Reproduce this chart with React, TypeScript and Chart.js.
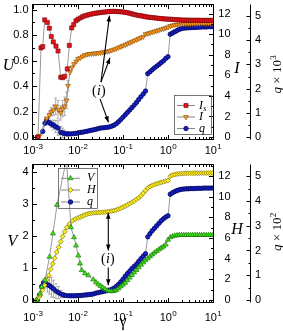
import React, { useEffect, useRef } from 'react';
import { Chart, registerables } from 'chart.js';

Chart.register(...registerables);

const SANS = '"Liberation Sans", Arial, Helvetica, sans-serif';
const SERIF = '"Liberation Serif", "Times New Roman", serif';

// ---------------- data (log10 of gamma, values) ----------------
const denseLogGamma = [
  -2.2, -2.15, -2.1, -2.05, -2.0, -1.95, -1.9, -1.85, -1.8, -1.75, -1.7, -1.65, -1.6, -1.55, -1.5, -1.45,
  -1.4, -1.35, -1.3, -1.25, -1.2, -1.15, -1.1, -1.05, -1.0, -0.95, -0.9, -0.85, -0.8, -0.75, -0.7, -0.65,
  -0.6, -0.55, -0.5, -0.45, -0.4, -0.35, -0.3, -0.25, -0.2, -0.15, -0.1, -0.05, 0, 0.05, 0.1, 0.15,
  0.2, 0.25, 0.3, 0.35, 0.4, 0.45, 0.5, 0.55, 0.6, 0.65, 0.7, 0.75, 0.8, 0.85, 0.9, 0.95, 1.0,
];

// top panel: I_s (left axis U)
const isEarlyLogGamma = [-2.889, -2.822, -2.784, -2.74, -2.682, -2.638, -2.593, -2.549, -2.489, -2.444, -2.384, -2.34, -2.296, -2.238, -2.193, -2.14, -2.096, -2.046];
const isEarlyValues = [0.0, 0.70, 0.71, 0.92, 0.90, 0.855, 0.79, 0.747, 0.714, 0.676, 0.47, 0.466, 0.477, 0.535, 0.72, 0.857, 0.883, 0.913];
const isDenseValues = [
  null, null, null, null, 0.925, 0.935, 0.945, 0.952, 0.957, 0.962, 0.966, 0.970, 0.973, 0.975, 0.978, 0.980,
  0.982, 0.984, 0.986, 0.987, 0.987, 0.986, 0.985, 0.984, 0.982, 0.979, 0.976, 0.972, 0.967, 0.962, 0.958, 0.955,
  0.952, 0.949, 0.945, 0.942, 0.940, 0.938, 0.936, 0.934, 0.932, 0.930, 0.928, 0.927, 0.926, 0.925, 0.924, 0.922,
  0.921, 0.920, 0.919, 0.918, 0.918, 0.918, 0.917, 0.917, 0.917, 0.917, 0.917, 0.916, 0.916, 0.916, 0.916, 0.916, 0.916,
];

// top panel: I (right axis)
const iEarlyLogGamma = [-2.86, -2.696, -2.638, -2.593, -2.549, -2.496, -2.444, -2.384, -2.34, -2.296, -2.251, -2.222, -2.178, -2.133, -2.089, -2.04];
const iEarlyValues = [0.1, 1.82, 2.13, 2.45, 2.6, 2.99, 2.67, 2.35, 2.77, 2.99, 3.56, 4.98, 6.31, 6.78, 7.1, 7.35];
const iEarlyErrors = [0, 0, 0.3, 0.4, 0.5, 0.8, 0.9, 0.7, 0.8, 0.9, 0.8, 0.5, 0, 0, 0, 0];
const iDenseValues = [
  null, null, null, null, 7.6, 7.7, 7.85, 7.97, 8.03, 8.08, 8.1, 8.12, 8.14, 8.17, 8.2, 8.24,
  8.27, 8.31, 8.37, 8.44, 8.52, 8.6, 8.7, 8.79, 8.88, 8.97, 9.07, 9.17, 9.27, 9.37, 9.47, 9.57,
  9.66, 9.75, 10.0, 10.06, 10.13, 10.2, 10.27, 10.33, 10.4, 10.47, 10.53, 10.6, 10.68, 10.8, 10.85, 10.9,
  10.93, 10.95, 10.97, 10.99, 11.0, 11.0, 11.01, 11.02, 11.02, 11.03, 11.03, 11.04, 11.04, 11.05, 11.05, 11.05, 11.05,
];

// top panel: q x 10^3 (far right axis)
const qTopEarlyLogGamma = [-2.904, -2.784, -2.733, -2.696, -2.638, -2.593, -2.549, -2.496, -2.444, -2.384, -2.34, -2.296, -2.238];
const qTopEarlyValues = [0.0, 0.23, 0.57, 0.70, 0.59, 0.54, 0.50, 0.43, 0.37, 0.19, 0.17, 0.14, 0.13];
const qTopEarlyErrors = [0, 0, 0, 0, 0.1, 0.15, 0.2, 0.25, 0.3, 0.25, 0.2, 0.15, 0.1];
const qTopDenseValues = [
  0.13, 0.13, 0.14, 0.15, 0.17, 0.19, 0.2, 0.22, 0.24, 0.26, 0.28, 0.3, 0.32, 0.35, 0.37, 0.38,
  0.39, 0.4, 0.42, 0.45, 0.49, 0.55, 0.63, 0.72, 0.82, 0.92, 1.02, 1.12, 1.22, 1.32, 1.43, 1.55,
  1.67, 1.78, 1.9, 2.62, 2.7, 2.78, 2.86, 2.93, 3.0, 3.08, 3.15, 3.25, 3.32, 4.25, 4.3, 4.35,
  4.4, 4.45, 4.48, 4.5, 4.51, 4.52, 4.52, 4.53, 4.53, 4.54, 4.54, 4.55, 4.55, 4.55, 4.56, 4.56, 4.56,
];

// bottom panel: V (left axis)
const vEarlyLogGamma = [-2.918, -2.844, -2.807, -2.733, -2.633, -2.556, -2.467, -2.256, -2.156, -2.089, -2.044, -1.993, -1.956, -1.918, -1.844, -1.771, -1.66];
const vEarlyValues = [0.0, 0.2, 0.41, 0.62, 1.35, 2.08, 2.97, 4.4, 2.27, 1.96, 1.7, 1.39, 1.14, 0.93, 0.83, 0.77, 0.64];
const vDenseValues = [
  null, null, null, null, null, null, null, null, null, null, null, null, 0.55, 0.49, 0.44, 0.39,
  0.34, 0.3, 0.28, 0.27, 0.28, 0.31, 0.36, 0.42, 0.48, 0.54, 0.62, 0.7, 0.78, 0.86, 0.94, 1.02,
  1.1, 1.17, 1.24, 1.3, 1.36, 1.42, 1.48, 1.53, 1.58, 1.63, 1.67, 1.73, 1.88, 1.96, 1.99, 2.01,
  2.02, 2.03, 2.03, 2.03, 2.03, 2.03, 2.03, 2.03, 2.03, 2.03, 2.03, 2.03, 2.03, 2.03, 2.03, 2.03, 2.03,
];

// bottom panel: H (right axis)
const hEarlyLogGamma = [-2.918, -2.878, -2.844, -2.793, -2.74, -2.696, -2.651, -2.607, -2.562, -2.518, -2.473, -2.429, -2.384, -2.34, -2.296, -2.251, -2.193, -2.118, -2.06];
const hEarlyValues = [0.0, 0.25, 0.48, 0.96, 1.44, 1.92, 2.4, 2.98, 3.52, 4.06, 4.64, 5.12, 5.66, 6.17, 6.62, 7.03, 7.36, 7.68, 7.85];
const hDenseValues = [
  null, null, null, null, 7.95, 8.05, 8.15, 8.24, 8.31, 8.37, 8.41, 8.44, 8.46, 8.47, 8.48, 8.5,
  8.52, 8.55, 8.58, 8.62, 8.66, 8.72, 8.8, 8.9, 9.0, 9.1, 9.22, 9.35, 9.48, 9.6, 9.75, 9.9,
  10.1, 10.35, 10.6, 10.85, 11.0, 11.1, 11.18, 11.26, 11.33, 11.4, 11.46, 11.52, 11.58, 12.0, 12.1, 12.16,
  12.2, 12.23, 12.25, 12.27, 12.27, 12.28, 12.28, 12.28, 12.29, 12.29, 12.29, 12.3, 12.3, 12.3, 12.3, 12.3, 12.3,
];

// bottom panel: q x 10^2 (far right axis)
const qBotEarlyLogGamma = [-2.904, -2.856, -2.807, -2.767, -2.722, -2.678, -2.633, -2.589, -2.544, -2.489, -2.433, -2.378, -2.322, -2.267];
const qBotEarlyValues = [0.0, 0.2, 0.55, 0.7, 0.68, 0.62, 0.58, 0.52, 0.45, 0.36, 0.3, 0.24, 0.2, 0.18];
const qBotEarlyErrors = [0, 0, 0, 0.15, 0.2, 0.3, 0.35, 0.4, 0.35, 0.3, 0.25, 0.15, 0.1, 0];
const qBotDenseValues = [
  0.17, 0.17, 0.17, 0.17, 0.18, 0.18, 0.19, 0.2, 0.21, 0.22, 0.23, 0.25, 0.28, 0.3, 0.32, 0.34,
  0.36, 0.38, 0.4, 0.43, 0.48, 0.55, 0.63, 0.73, 0.84, 0.96, 1.07, 1.17, 1.27, 1.36, 1.45, 1.56,
  1.67, 1.77, 1.87, 2.55, 2.68, 2.8, 2.9, 3.0, 3.1, 3.2, 3.28, 3.35, 3.4, 4.27, 4.33, 4.38,
  4.42, 4.45, 4.47, 4.48, 4.49, 4.49, 4.5, 4.5, 4.5, 4.51, 4.51, 4.51, 4.52, 4.52, 4.52, 4.52, 4.52,
];

// annotations, in data coordinates (log10 gamma, left-axis value)
const topArrowFrom = [[-1.489, 0.431], [-1.489, 0.431], [-1.511, 0.3]];
const topArrowTo = [[-1.3, 0.954], [-1.289, 0.623], [-1.322, 0.115]];
const topLabelAt = [-1.544, 0.358];
const botArrowFrom = [[-1.327, 2.724], [-1.327, 1.02]];
const botArrowTo = [[-1.327, 1.548], [-1.327, 0.464]];
const botArrowDouble = [true, false];
const botLabelAt = [-1.344, 1.27];

// ---------------- helpers ----------------
function buildPoints(earlyLog: number[], earlyVal: number[], dense: (number | null)[]) {
  const pts: { x: number; y: number }[] = [];
  earlyLog.forEach((l, i) => pts.push({ x: Math.pow(10, l), y: earlyVal[i] }));
  dense.forEach((v, i) => {
    if (v !== null) pts.push({ x: Math.pow(10, denseLogGamma[i]), y: v });
  });
  return pts;
}

function drawMarker(ctx: CanvasRenderingContext2D, style: string, x: number, y: number, r: number, rot: number, fill: string, stroke: string, bw: number) {
  ctx.beginPath();
  if (style === 'circle') ctx.arc(x, y, r, 0, Math.PI * 2);
  else if (style === 'rect') {
    const s = r * Math.SQRT1_2;
    ctx.rect(x - s, y - s, 2 * s, 2 * s);
  } else if (style === 'rectRot') {
    ctx.moveTo(x - r, y); ctx.lineTo(x, y - r); ctx.lineTo(x + r, y); ctx.lineTo(x, y + r); ctx.closePath();
  } else {
    let a = (rot * Math.PI) / 180;
    for (let k = 0; k < 3; k++) {
      const px = x + Math.sin(a) * r, py = y - Math.cos(a) * r;
      if (k) ctx.lineTo(px, py); else ctx.moveTo(px, py);
      a += (2 * Math.PI) / 3;
    }
    ctx.closePath();
  }
  ctx.fillStyle = fill; ctx.fill();
  ctx.lineWidth = bw; ctx.strokeStyle = stroke; ctx.stroke();
}

function arrowHead(ctx: CanvasRenderingContext2D, x0: number, y0: number, x1: number, y1: number) {
  const ang = Math.atan2(y1 - y0, x1 - x0);
  const len = 6, hw = 2.3;
  const bx = x1 - len * Math.cos(ang), by = y1 - len * Math.sin(ang);
  ctx.beginPath();
  ctx.moveTo(x1, y1);
  ctx.lineTo(bx + hw * Math.sin(ang), by - hw * Math.cos(ang));
  ctx.lineTo(bx - hw * Math.sin(ang), by + hw * Math.cos(ang));
  ctx.closePath();
  ctx.fill();
}

interface LegendItem { label: string; sub?: string; ds: number }
interface DecorSpec {
  leftId: string; rightId: string; farId: string;
  xLabelBaseline: number;
  rightLabelRight: number;
  leftTitle: { text: string; x: number; y: number };
  rightTitle: { text: string; x: number; y: number };
  farTitle: { exp: string; x: number; y: number };
  xTitle?: { text: string; baseline: number };
  legend: { left: number; top: number; right: number; bottom: number; rows: number[]; line: number[]; marker: number; labelX: number; items: LegendItem[] };
  arrowsFrom: number[][]; arrowsTo: number[][]; arrowsDouble: boolean[];
  labelAt: number[];
}

function makeDecor(spec: DecorSpec) {
  return {
    id: 'decor',
    beforeDatasetsDraw(chart: any) {
      const { ctx } = chart;
      ctx.save();
      ctx.strokeStyle = '#9a9a9a';
      ctx.lineWidth = 0.8;
      chart.data.datasets.forEach((ds: any, di: number) => {
        if (!ds.errors) return;
        const meta = chart.getDatasetMeta(di);
        const ys = chart.scales[ds.yAxisID];
        ds.errors.forEach((e: number, i: number) => {
          if (!e) return;
          const v = ds.data[i].y;
          const x = meta.data[i].x;
          const y0 = ys.getPixelForValue(v + e);
          const y1 = ys.getPixelForValue(v - e);
          ctx.beginPath();
          ctx.moveTo(x, y0); ctx.lineTo(x, y1);
          ctx.moveTo(x - 1.5, y0); ctx.lineTo(x + 1.5, y0);
          ctx.moveTo(x - 1.5, y1); ctx.lineTo(x + 1.5, y1);
          ctx.stroke();
        });
      });
      ctx.restore();
    },
    afterDraw(chart: any) {
      const { ctx, chartArea: a } = chart;
      const xs = chart.scales.x;
      const yl = chart.scales[spec.leftId];
      const yr = chart.scales[spec.rightId];
      const yf = chart.scales[spec.farId];
      ctx.save();
      // frame
      ctx.strokeStyle = '#000';
      ctx.lineWidth = 1;
      const L = Math.round(a.left) - 0.5, R = Math.round(a.right) + 0.5;
      const T = Math.round(a.top) - 0.5, B = Math.round(a.bottom) + 0.5;
      ctx.strokeRect(L, T, R - L, B - T);
      ctx.beginPath();
      xs.ticks.forEach((t: any) => {
        const v = t.value;
        const e = Math.floor(Math.log10(v) + 1e-9);
        const m = v / Math.pow(10, e);
        if (Math.abs(m - Math.round(m)) > 1e-6) return;
        const major = Math.abs(m - 1) < 1e-6 || Math.abs(m - 10) < 1e-6;
        const px = Math.round(xs.getPixelForValue(v)) + 0.5;
        const len = major ? 4.5 : 2.5;
        ctx.moveTo(px, B); ctx.lineTo(px, B - len);
        ctx.moveTo(px, T); ctx.lineTo(px, T + len);
      });
      yl.ticks.forEach((t: any) => {
        const py = Math.round(yl.getPixelForValue(t.value)) + 0.5;
        const len = t.label ? 4.5 : 2.5;
        ctx.moveTo(L, py); ctx.lineTo(L + len, py);
      });
      yr.ticks.forEach((t: any) => {
        const py = Math.round(yr.getPixelForValue(t.value)) + 0.5;
        const len = t.label ? 4.5 : 2.5;
        ctx.moveTo(R, py); ctx.lineTo(R - len, py);
      });
      const fx = Math.round(yf.left) + 0.5;
      ctx.moveTo(fx, T); ctx.lineTo(fx, B);
      yf.ticks.forEach((t: any) => {
        const py = Math.round(yf.getPixelForValue(t.value)) + 0.5;
        const len = t.label ? 4 : 2;
        ctx.moveTo(fx, py); ctx.lineTo(fx - len, py);
      });
      ctx.stroke();

      // right-axis tick labels (right aligned next to the frame)
      ctx.fillStyle = '#000';
      ctx.font = `11px ${SANS}`;
      ctx.textAlign = 'right';
      ctx.textBaseline = 'middle';
      yr.ticks.forEach((t: any) => {
        if (!t.label) return;
        ctx.fillText(String(t.label), spec.rightLabelRight, yr.getPixelForValue(t.value));
      });

      // x tick labels 10^n
      ctx.textBaseline = 'alphabetic';
      ctx.textAlign = 'left';
      xs.ticks.forEach((t: any) => {
        const lg = Math.log10(t.value);
        if (Math.abs(lg - Math.round(lg)) > 1e-6) return;
        const ex = String(Math.round(lg));
        ctx.font = `11px ${SANS}`;
        const w1 = ctx.measureText('10').width;
        ctx.font = `8px ${SANS}`;
        const w2 = ctx.measureText(ex).width;
        const px = xs.getPixelForValue(t.value);
        const x0 = px - (w1 + w2) / 2;
        const by = a.bottom + spec.xLabelBaseline;
        ctx.font = `11px ${SANS}`;
        ctx.fillText('10', x0, by);
        ctx.font = `8px ${SANS}`;
        ctx.fillText(ex, x0 + w1 + 0.3, by - 5);
      });

      // axis titles
      ctx.textAlign = 'center';
      ctx.textBaseline = 'middle';
      ctx.font = `italic 16px ${SERIF}`;
      ctx.fillText(spec.leftTitle.text, spec.leftTitle.x, spec.leftTitle.y);
      ctx.fillText(spec.rightTitle.text, spec.rightTitle.x, spec.rightTitle.y);
      if (spec.xTitle) {
        ctx.textBaseline = 'alphabetic';
        ctx.font = `16px ${SERIF}`;
        ctx.fillText(spec.xTitle.text, (a.left + a.right) / 2, spec.xTitle.baseline);
      }
      // far title rotated: q × 10^n
      ctx.save();
      ctx.translate(spec.farTitle.x, spec.farTitle.y);
      ctx.rotate(-Math.PI / 2);
      ctx.textAlign = 'left';
      ctx.textBaseline = 'alphabetic';
      ctx.font = `italic 13px ${SERIF}`;
      const wq = ctx.measureText('q').width;
      ctx.font = `13px ${SERIF}`;
      const wm = ctx.measureText(' \u00d7 10').width;
      ctx.font = `9px ${SERIF}`;
      const we = ctx.measureText(spec.farTitle.exp).width;
      let tx = -(wq + wm + we) / 2;
      ctx.font = `italic 13px ${SERIF}`;
      ctx.fillText('q', tx, 4); tx += wq;
      ctx.font = `13px ${SERIF}`;
      ctx.fillText(' \u00d7 10', tx, 4); tx += wm;
      ctx.font = `9px ${SERIF}`;
      ctx.fillText(spec.farTitle.exp, tx + 0.3, -1.5);
      ctx.restore();

      // legend
      const lg = spec.legend;
      ctx.strokeStyle = '#555';
      ctx.lineWidth = 0.8;
      ctx.strokeRect(Math.round(lg.left) + 0.5, Math.round(lg.top) + 0.5, lg.right - lg.left, lg.bottom - lg.top);
      lg.items.forEach((it, k) => {
        const ds: any = chart.data.datasets[it.ds];
        const y = lg.rows[k];
        ctx.strokeStyle = '#7a7a7a';
        ctx.lineWidth = 0.9;
        ctx.beginPath(); ctx.moveTo(lg.line[0], y); ctx.lineTo(lg.line[1], y); ctx.stroke();
        drawMarker(ctx, ds.pointStyle, lg.marker, y, ds.pointRadius, ds.pointRotation || 0, ds.pointBackgroundColor, ds.pointBorderColor, ds.pointBorderWidth);
        ctx.fillStyle = '#000';
        ctx.textAlign = 'left';
        ctx.textBaseline = 'middle';
        ctx.font = `italic 12px ${SERIF}`;
        ctx.fillText(it.label, lg.labelX, y);
        if (it.sub) {
          const w = ctx.measureText(it.label).width;
          ctx.font = `italic 8px ${SERIF}`;
          ctx.fillText(it.sub, lg.labelX + w + 0.2, y + 3);
        }
      });

      // annotation arrows
      ctx.strokeStyle = '#000';
      ctx.fillStyle = '#000';
      ctx.lineWidth = 1.1;
      const toPx = (p: number[]) => [xs.getPixelForValue(Math.pow(10, p[0])), yl.getPixelForValue(p[1])];
      spec.arrowsFrom.forEach((f, k) => {
        const [x0, y0] = toPx(f);
        const [x1, y1] = toPx(spec.arrowsTo[k]);
        ctx.beginPath(); ctx.moveTo(x0, y0); ctx.lineTo(x1, y1); ctx.stroke();
        arrowHead(ctx, x0, y0, x1, y1);
        if (spec.arrowsDouble[k]) arrowHead(ctx, x1, y1, x0, y0);
      });
      // (i) label
      const [lx, ly] = toPx(spec.labelAt);
      ctx.textBaseline = 'middle';
      ctx.textAlign = 'left';
      ctx.font = `14px ${SERIF}`;
      const wp = ctx.measureText('(').width;
      const wc = ctx.measureText(')').width;
      ctx.font = `italic 14px ${SERIF}`;
      const wi = ctx.measureText('i').width;
      let sx = lx - (wp + wi + wc) / 2;
      ctx.font = `14px ${SERIF}`;
      ctx.fillText('(', sx, ly); sx += wp;
      ctx.font = `italic 14px ${SERIF}`;
      ctx.fillText('i', sx + 0.3, ly); sx += wi + 0.6;
      ctx.font = `14px ${SERIF}`;
      ctx.fillText(')', sx, ly);
      ctx.restore();
    },
  };
}

function yAxis(o: { position: 'left' | 'right'; min: number; max: number; step: number; labelEvery: number; decimals: number; width: number; padding: number; showLabels?: boolean; weight?: number }) {
  return {
    type: 'linear',
    position: o.position,
    min: o.min,
    max: o.max,
    weight: o.weight ?? 0,
    grid: { display: false, drawTicks: false },
    border: { display: false },
    ticks: {
      display: o.showLabels ?? true,
      stepSize: o.step,
      autoSkip: false,
      maxTicksLimit: 100,
      includeBounds: false,
      padding: o.padding,
      color: '#000',
      font: { family: SANS, size: 11 },
      callback: (v: number) => {
        const k = v / o.labelEvery;
        return Math.abs(k - Math.round(k)) < 1e-6 ? v.toFixed(o.decimals) : '';
      },
    },
    afterFit: (s: any) => { s.width = o.width; s.paddingTop = 0; s.paddingBottom = 0; },
  };
}

function xAxis(height: number) {
  return {
    type: 'logarithmic',
    position: 'bottom',
    min: 1e-3,
    max: 10,
    grid: { display: false, drawTicks: false },
    border: { display: false },
    ticks: { display: false, autoSkip: false },
    afterFit: (s: any) => { s.height = height; s.paddingLeft = 0; s.paddingRight = 0; },
  };
}

const LINE = '#808080';

function ds(label: string, data: any[], yAxisID: string, style: string, radius: number, fill: string, stroke: string, extra: any = {}) {
  return {
    label, data, yAxisID,
    showLine: true,
    borderColor: LINE,
    borderWidth: 0.8,
    pointStyle: style,
    pointRadius: radius,
    pointBackgroundColor: fill,
    pointBorderColor: stroke,
    pointBorderWidth: 0.6,
    ...extra,
  };
}

function baseOptions(padTop: number, scales: any) {
  return {
    responsive: false,
    animation: false,
    devicePixelRatio: 1,
    events: [],
    layout: { padding: { top: padTop, left: 0, right: 0, bottom: 0 } },
    plugins: { legend: { display: false }, tooltip: { enabled: false } },
    scales,
  };
}

function topConfig(): any {
  const datasets = [
    ds('Is', buildPoints(isEarlyLogGamma, isEarlyValues, isDenseValues), 'yU', 'rect', 2.9, '#e3161c', '#7a0000'),
    ds('I', buildPoints(iEarlyLogGamma, iEarlyValues, iDenseValues), 'yI', 'triangle', 2.8, '#ff9c1c', '#7a4300', { pointRotation: 180, errors: iEarlyErrors }),
    ds('q', buildPoints(qTopEarlyLogGamma, qTopEarlyValues, qTopDenseValues), 'yQ', 'circle', 2.2, '#1422c8', '#00005a', { errors: qTopEarlyErrors, pointBorderWidth: 0.8 }),
  ];
  const spec: DecorSpec = {
    leftId: 'yU', rightId: 'yI', farId: 'yQ',
    xLabelBaseline: 15,
    rightLabelRight: 230.5,
    leftTitle: { text: 'U', x: 8.5, y: 66 },
    rightTitle: { text: 'I', x: 237, y: 69 },
    farTitle: { exp: '3', x: 277, y: 74.5 },
    legend: {
      left: 174, top: 95, right: 211, bottom: 134,
      rows: [105.5, 117, 128.5], line: [177, 195], marker: 186, labelX: 199,
      items: [{ label: 'I', sub: 's', ds: 0 }, { label: 'I', ds: 1 }, { label: 'q', ds: 2 }],
    },
    arrowsFrom: topArrowFrom, arrowsTo: topArrowTo, arrowsDouble: [false, false, false],
    labelAt: topLabelAt,
  };
  return {
    type: 'scatter',
    data: { datasets },
    options: baseOptions(2, {
      x: xAxis(21),
      yU: yAxis({ position: 'left', min: -0.0154, max: 1.0385, step: 0.1, labelEvery: 0.2, decimals: 1, width: 33, padding: 4.5 }),
      yI: yAxis({ position: 'right', min: -0.19, max: 12.857, step: 1, labelEvery: 2, decimals: 0, width: 37, padding: 5, showLabels: false, weight: 0 }),
      yQ: yAxis({ position: 'right', min: -0.081, max: 5.466, step: 0.5, labelEvery: 1, decimals: 0, width: 33, padding: 5, weight: 1 }),
    }),
    plugins: [makeDecor(spec)],
  };
}

function bottomConfig(): any {
  const datasets = [
    ds('V', buildPoints(vEarlyLogGamma, vEarlyValues, vDenseValues), 'yV', 'triangle', 2.9, '#3be61a', '#146600'),
    ds('H', buildPoints(hEarlyLogGamma, hEarlyValues, hDenseValues), 'yH', 'rectRot', 2.5, '#ffec22', '#6b6400'),
    ds('q', buildPoints(qBotEarlyLogGamma, qBotEarlyValues, qBotDenseValues), 'yQ', 'circle', 2.2, '#1422c8', '#00005a', { errors: qBotEarlyErrors, pointBorderWidth: 0.8 }),
  ];
  const spec: DecorSpec = {
    leftId: 'yV', rightId: 'yH', farId: 'yQ',
    xLabelBaseline: 19,
    rightLabelRight: 230.5,
    leftTitle: { text: 'V', x: 12.5, y: 82 },
    rightTitle: { text: 'H', x: 237, y: 70 },
    farTitle: { exp: '2', x: 277, y: 72 },
    xTitle: { text: '\u03b3', baseline: 166 },
    legend: {
      left: 58, top: 8, right: 97, bottom: 48,
      rows: [18.3, 30, 42], line: [61, 80], marker: 70.5, labelX: 87,
      items: [{ label: 'V', ds: 0 }, { label: 'H', ds: 1 }, { label: 'q', ds: 2 }],
    },
    arrowsFrom: botArrowFrom, arrowsTo: botArrowTo, arrowsDouble: botArrowDouble,
    labelAt: botLabelAt,
  };
  return {
    type: 'scatter',
    data: { datasets },
    options: baseOptions(3.5, {
      x: xAxis(29),
      yV: yAxis({ position: 'left', min: -0.062, max: 4.226, step: 0.5, labelEvery: 1, decimals: 0, width: 33, padding: 4.5 }),
      yH: yAxis({ position: 'right', min: -0.192, max: 13.1, step: 1, labelEvery: 2, decimals: 0, width: 37, padding: 5, showLabels: false, weight: 0 }),
      yQ: yAxis({ position: 'right', min: -0.08, max: 5.46, step: 0.5, labelEvery: 1, decimals: 0, width: 33, padding: 5, weight: 1 }),
    }),
    plugins: [makeDecor(spec)],
  };
}

export default function App() {
  const topRef = useRef<HTMLCanvasElement>(null);
  const botRef = useRef<HTMLCanvasElement>(null);
  useEffect(() => {
    const c1 = new Chart(topRef.current as HTMLCanvasElement, topConfig());
    const c2 = new Chart(botRef.current as HTMLCanvasElement, bottomConfig());
    return () => { c1.destroy(); c2.destroy(); };
  }, []);
  return (
    <div style={{ position: 'absolute', left: 0, top: 0, width: 283, height: 331, background: '#fff', overflow: 'hidden' }}>
      <canvas ref={topRef} width={283} height={160} style={{ position: 'absolute', left: 0, top: 0, width: 283, height: 160, display: 'block' }} />
      <canvas ref={botRef} width={283} height={171} style={{ position: 'absolute', left: 0, top: 160, width: 283, height: 171, display: 'block' }} />
    </div>
  );
}
